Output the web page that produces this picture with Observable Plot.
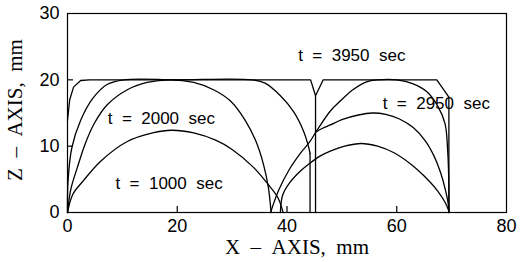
<!DOCTYPE html>
<html><head><meta charset="utf-8">
<script src="https://cdn.jsdelivr.net/npm/d3@7"></script>
<script src="https://cdn.jsdelivr.net/npm/@observablehq/plot@0.6"></script>
<style>body{margin:0;background:#fff}</style>
</head><body><div id="chart"></div>
<script>
const xTicks = [0, 20, 40, 60, 80];
const yTicks = [0, 10, 20, 30];

// solidification fronts, [x mm, z mm]
const front1000Left = [[0,0],[1,2.8],[2.9,4.8],[6,7.7],[10.9,10.7],[15.5,12.0],[19,12.4],[23,12.0],[27,10.9],[30,9.5],[33.9,6.8],[36.5,4.3],[38.3,2.3],[39.3,0]];
const front2000Left = [[0,0],[0.6,3.5],[1.8,6.8],[3.2,10.3],[4.8,13.3],[7.2,16.2],[10.9,18.5],[14.5,19.6],[18.8,20],[23,19.6],[26.6,18.5],[29.7,16.8],[32.3,14],[34.3,10.8],[35.7,7.3],[36.6,3.8],[37.1,0]];
const front2950Left = [[0,0],[0.1,4.8],[0.8,9.8],[2.4,13.9],[4.6,17.2],[7.2,19.3],[10.3,20],[20,20],[33.6,20],[36,19.5],[38.8,17.6],[41.2,15.2],[43,12.3],[43.9,10],[44.2,8.9]];
const wall2950 = [[44.2,8.9],[44.2,0]];
const front1000Right = [[38.8,0],[39.2,2.6],[40.5,4.5],[42.5,6.3],[44.1,7.4],[46,8.5],[48,9.3],[50.5,10.0],[53.5,10.4],[56.5,10.0],[59.5,9.0],[62.7,7.2],[65,5.5],[67.5,3.2],[68.9,1.4],[69.6,0]];
const front2000Right = [[45.2,12.1],[46.5,12.7],[47.9,13.2],[50,14],[53,14.7],[55.5,15],[58,14.8],[60.5,14.1],[63,12.8],[65.2,10.8],[66.8,8.5],[68,6],[68.9,3.3],[69.4,1.2],[69.5,0]];
const front2950Right = [[37,0],[38.5,3.4],[40.5,6.6],[42.5,9.0],[44.1,10.6],[45.4,12.3],[47.9,15.3],[49.7,16.8],[52,18.5],[54.5,19.7],[56.5,20],[60,20],[63,19.4],[65.5,18.2],[67.5,16],[68.8,13.4],[69.3,9],[69.5,3.8],[69.5,0]];
const front3950 = [[0,13.9],[0.4,17],[1.1,18.9],[2.4,19.9],[4,20],[44.3,20],[45.2,17.6],[46.6,20],[67.3,20],[69.5,17.4],[69.5,0]];
const wall3950 = [[45.2,17.6],[45.2,0]];

const labelText = ["t  =  3950  sec", "t  =  2950  sec", "t  =  2000  sec", "t  =  1000  sec"].map(s => s.replace(/ /g, "\u00A0"));
const labelX = [51.8, 67.2, 17.1, 18.5];
const labelZ = [23.7, 16.4, 14.2, 4.4];
const labels = labelText.map((t, i) => ({t, x: labelX[i], z: labelZ[i]}));

const sans = "Liberation Sans, Arial, Helvetica, sans-serif";
const serif = "Liberation Serif, Times New Roman, serif";
const X = d => d[0], Y = d => d[1];
const smooth = [front1000Left, front2000Left, front2950Left, front1000Right, front2000Right, front2950Right];
const straight = [wall2950, front3950, wall3950];

const plot = Plot.plot({
  width: 522, height: 262,
  marginLeft: 67, marginRight: 16, marginTop: 13, marginBottom: 50,
  style: {fontFamily: sans, background: "#fff", color: "#000"},
  x: {domain: [0, 80]},
  y: {domain: [0, 30]},
  marks: [
    Plot.frame({stroke: "#000", strokeWidth: 1.2}),
    Plot.axisX(xTicks, {tickSize: 0, tickPadding: 7, fontSize: 18, fontFamily: sans, label: null}),
    Plot.axisY(yTicks, {tickSize: 0, tickPadding: 8, fontSize: 18, fontFamily: sans, label: null}),
    Plot.axisX(xTicks.slice(1, -1), {tickSize: 6, dy: -6, tickFormat: () => "", label: null, strokeWidth: 1.2}),
    Plot.axisY(yTicks.slice(1, -1), {tickSize: 6, dx: 6, tickFormat: () => "", label: null, strokeWidth: 1.2}),
    ...smooth.map(c => Plot.line(c, {x: X, y: Y, curve: "catmull-rom", stroke: "#000", strokeWidth: 1.3})),
    ...straight.map(c => Plot.line(c, {x: X, y: Y, stroke: "#000", strokeWidth: 1.3})),
    Plot.text(labels, {x: "x", y: "z", text: "t", fontSize: 17, fontFamily: sans, fill: "#000"}),
    Plot.text(["X \u2013 AXIS, mm".replace(/ /g, "\u00A0\u00A0")], {frameAnchor: "bottom", textAnchor: "middle", dx: 10, dy: 41, fontSize: 21, fontFamily: serif, fill: "#000"}),
    Plot.text(["Z \u2013 AXIS, mm".replace(/ /g, "\u00A0\u00A0")], {frameAnchor: "left", textAnchor: "middle", dx: -52, dy: -3, rotate: -90, fontSize: 21, fontFamily: serif, fill: "#000"})
  ]
});
document.getElementById("chart").appendChild(plot);
</script>
</body></html>
